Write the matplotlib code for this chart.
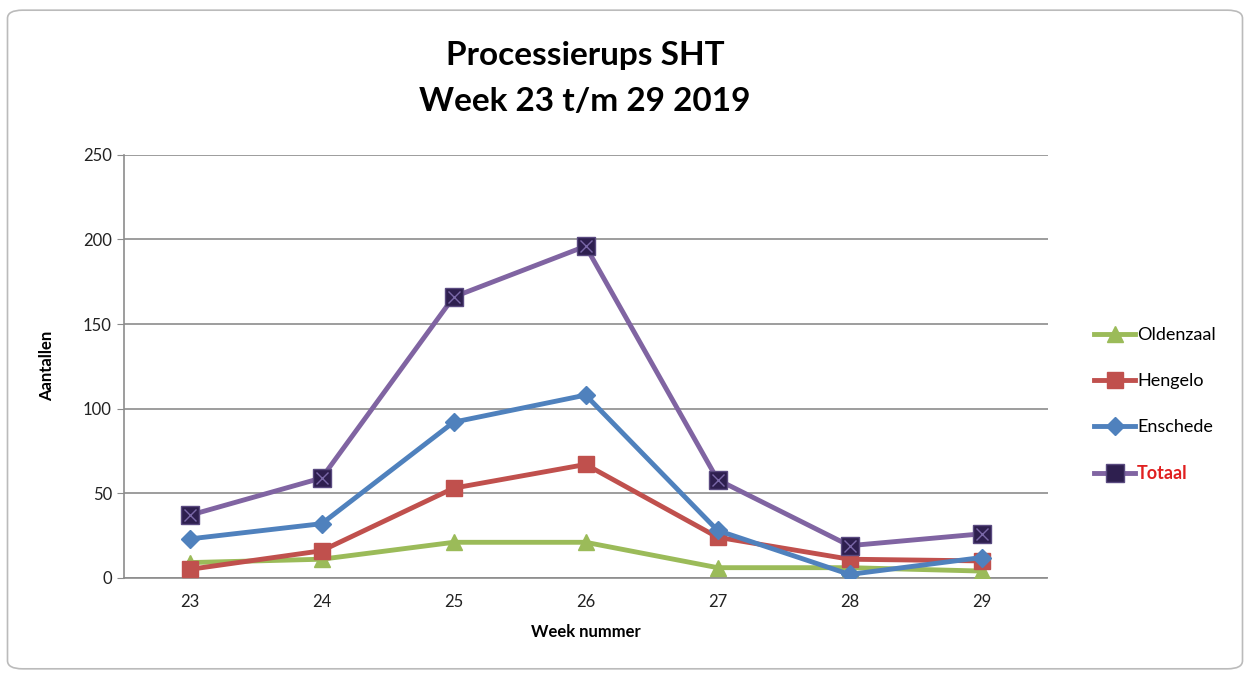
import matplotlib.pyplot as plt
from matplotlib.patches import FancyBboxPatch

plt.rcParams['font.family'] = ['Lato', 'DejaVu Sans']

weeks = [23, 24, 25, 26, 27, 28, 29]
oldenzaal = [9, 11, 21, 21, 6, 6, 4]
hengelo = [5, 16, 53, 67, 24, 11, 10]
enschede = [23, 32, 92, 108, 28, 2, 12]
totaal = [37, 59, 166, 196, 58, 19, 26]

names = ['Oldenzaal', 'Hengelo', 'Enschede', 'Totaal']
colors = ['#9bbb59', '#c0504d', '#4f81bd', '#8064a2']
marks = ['^', 's', 'D', 's']

fig = plt.figure(figsize=(12.5, 6.79), dpi=100)
ax = fig.add_axes([0.099, 0.149, 0.739, 0.623])

series = [oldenzaal, hengelo, enschede, totaal]
for vals, name, col, mk in zip(series, names, colors, marks):
    if name == 'Totaal':
        ax.plot(weeks, vals, color=col, lw=3.5, marker='s', ms=13,
                mfc='#2e1f4f', mec='#5a4a80', label=name, zorder=3)
        ax.plot(weeks, vals, ls='none', marker='x', ms=9, mec='#7a68a8',
                mew=1, zorder=4)
    else:
        ms = 9 if mk == 'D' else 11
        ax.plot(weeks, vals, color=col, lw=3.5, marker=mk, ms=ms,
                mec=col, label=name, zorder=3)

ax.set_xlim(22.5, 29.5)
ax.set_ylim(0, 250)
ax.set_xticks(weeks)
ax.set_yticks(range(0, 251, 50))
ax.yaxis.grid(True, color='#8c8c8c', lw=1.2)
ax.set_axisbelow(True)
for s in ['top', 'right']:
    ax.spines[s].set_visible(False)
ax.spines['left'].set_color('#8c8c8c')
ax.spines['bottom'].set_color('#8c8c8c')
ax.spines['left'].set_linewidth(1.2)
ax.spines['bottom'].set_linewidth(1.2)
ax.tick_params(axis='both', colors='#8c8c8c', labelcolor='#222222',
               labelsize=12, length=5)
ax.tick_params(axis='x', length=0, pad=12)

ax.set_xlabel('Week nummer', fontsize=12, fontweight='bold', labelpad=10)
ax.set_ylabel('Aantallen', fontsize=12, fontweight='bold', labelpad=20)

fig.text(0.468, 0.918, 'Processierups SHT', ha='center', va='center',
         fontsize=24, fontweight='bold')
fig.text(0.468, 0.851, 'Week 23 t/m 29 2019', ha='center', va='center',
         fontsize=24, fontweight='bold')

handles, labels = ax.get_legend_handles_labels()
leg = fig.legend(handles, labels, loc='center left',
                 bbox_to_anchor=(0.862, 0.404), frameon=False, fontsize=13,
                 handlelength=2.3, handletextpad=0.1, labelspacing=1.65)
for t in leg.get_texts():
    if t.get_text() == 'Totaal':
        t.set_color('#e02020')
        t.set_fontweight('bold')

border = FancyBboxPatch((0.006, 0.015), 0.988, 0.97,
                        boxstyle='round,pad=0,rounding_size=0.012',
                        transform=fig.transFigure, fill=False,
                        ec='#bbbbbb', lw=1.2)
fig.patches.append(border)

fig.savefig('out.png', dpi=100)
